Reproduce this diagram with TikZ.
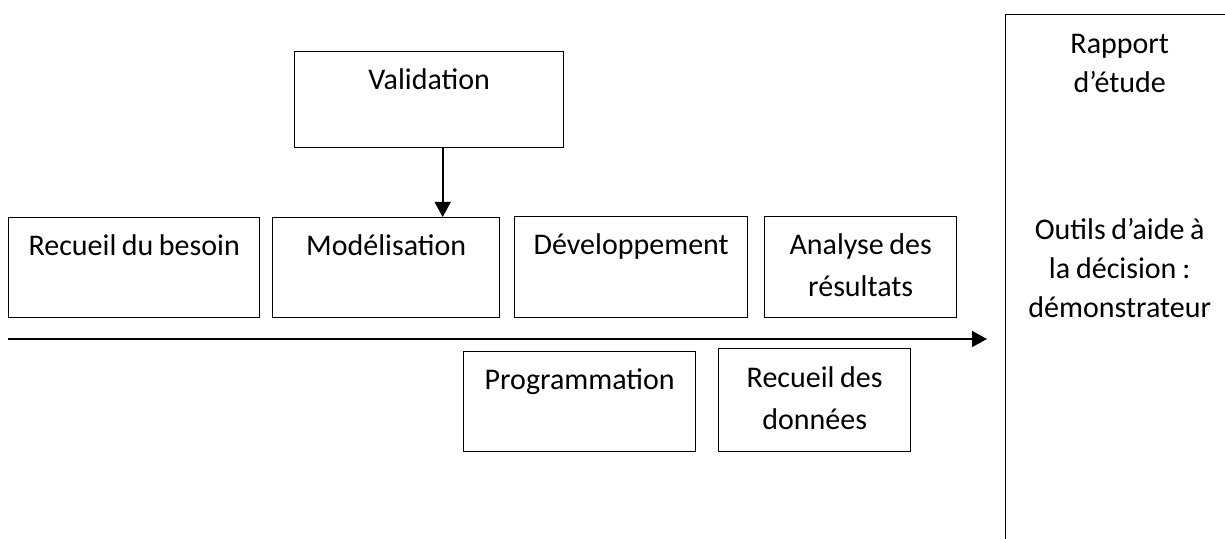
\documentclass[tikz,border=0pt]{standalone}
\usepackage{fontspec}
\setmainfont{Carlito}
\usetikzlibrary{arrows.meta}

\newcommand{\stagefont}{\fontsize{15}{21}\selectfont}

\begin{document}
\begin{tikzpicture}[x=0.5pt, y=-0.5pt,
        stage/.style={draw, line width=0.7pt, inner sep=0pt, anchor=north west,
                      align=center, text height=19pt, font=\stagefont,
                      execute at begin node={\spaceskip=2.6pt plus 0.5pt minus 0.5pt\relax}},
        flow/.style={-{Triangle[length=7.5pt, width=8pt]}, line width=0.8pt}]

    \clip (0,0) rectangle (1225,539);

    % Validation step above the chain
    \node[stage, text width=134.5pt, text depth=29pt] (validation) at (294,51) {Validation};

    % Main phases
    \node[stage, text width=125.5pt, text depth=31pt] (besoin) at (8,217) {Recueil du besoin};
    \node[stage, text width=113.5pt, text depth=31pt] (modelisation) at (272,217) {Modélisation};
    \node[stage, text width=116.5pt, text depth=31.5pt] (developpement) at (514,216) {Développement};
    \node[stage, text width=96pt, text depth=31.5pt] (analyse) at (764,216) {Analyse des\\résultats};

    % Sub-phases below the time line
    \node[stage, text width=116pt, text depth=31pt] (programmation) at (463,351) {Programmation};
    \node[stage, text width=96pt, text height=19.5pt, text depth=32pt] (donnees) at (718,348) {Recueil des\\données};

    % Deliverables
    \node[stage, text width=114pt, text height=19.5pt, text depth=300pt,
          font={\stagefont\baselineskip=19.5pt}] (rapport) at (1005,14)
        {Rapport\\d’étude\\[54pt]Outils d’aide à\\la décision :\\démonstrateur};

    % Time line
    \coordinate (tl start) at (8,339);
    \coordinate (tl end) at (987,339);
    \draw[flow] (tl start) -- (tl end);

    \draw[flow] ([xshift=6.75pt]validation.south) -- ([xshift=28.25pt]modelisation.north);
\end{tikzpicture}
\end{document}
